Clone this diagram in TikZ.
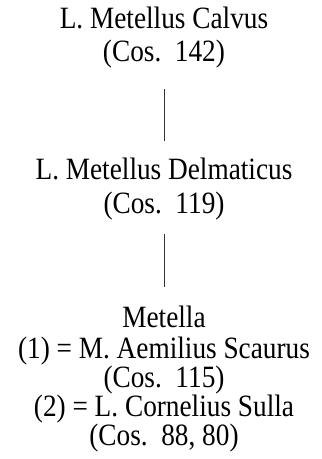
\documentclass[tikz,border=0pt]{standalone}
\usepackage{fontspec}
\setmainfont[FakeStretch=0.88]{Liberation Serif}
\tikzset{
  txt/.style={anchor=base, inner sep=0pt, font=\fontsize{31}{34}\selectfont},
  link/.style={draw=black!80, line width=0.8pt}
}
\begin{document}
\begin{tikzpicture}[x=1pt,y=1pt]
\useasboundingbox (0,0) rectangle (322,-459);
\node[txt] (a1) at (164,-28) {L. Metellus Calvus};
\node[txt] (a2) at (164,-61) {(Cos.\ \ 142)};
\node[txt] (b1) at (164,-179) {L. Metellus Delmaticus};
\node[txt] (b2) at (164,-213) {(Cos.\ \ 119)};
\node[txt] (c1) at (164,-327) {Metella};
\node[txt] (c2) at (164,-358) {(1) = M. Aemilius Scaurus};
\node[txt] (c3) at (164,-387) {(Cos.\ \ 115)};
\node[txt] (c4) at (164,-416) {(2) = L. Cornelius Sulla};
\node[txt] (c5) at (164,-445) {(Cos.\ \ 88, 80)};
\coordinate (l1a) at (164,-89);
\coordinate (l1b) at (164,-141);
\coordinate (l2a) at (164,-234);
\coordinate (l2b) at (164,-287);
\draw[link] (l1a) -- (l1b);
\draw[link] (l2a) -- (l2b);
\end{tikzpicture}
\end{document}
